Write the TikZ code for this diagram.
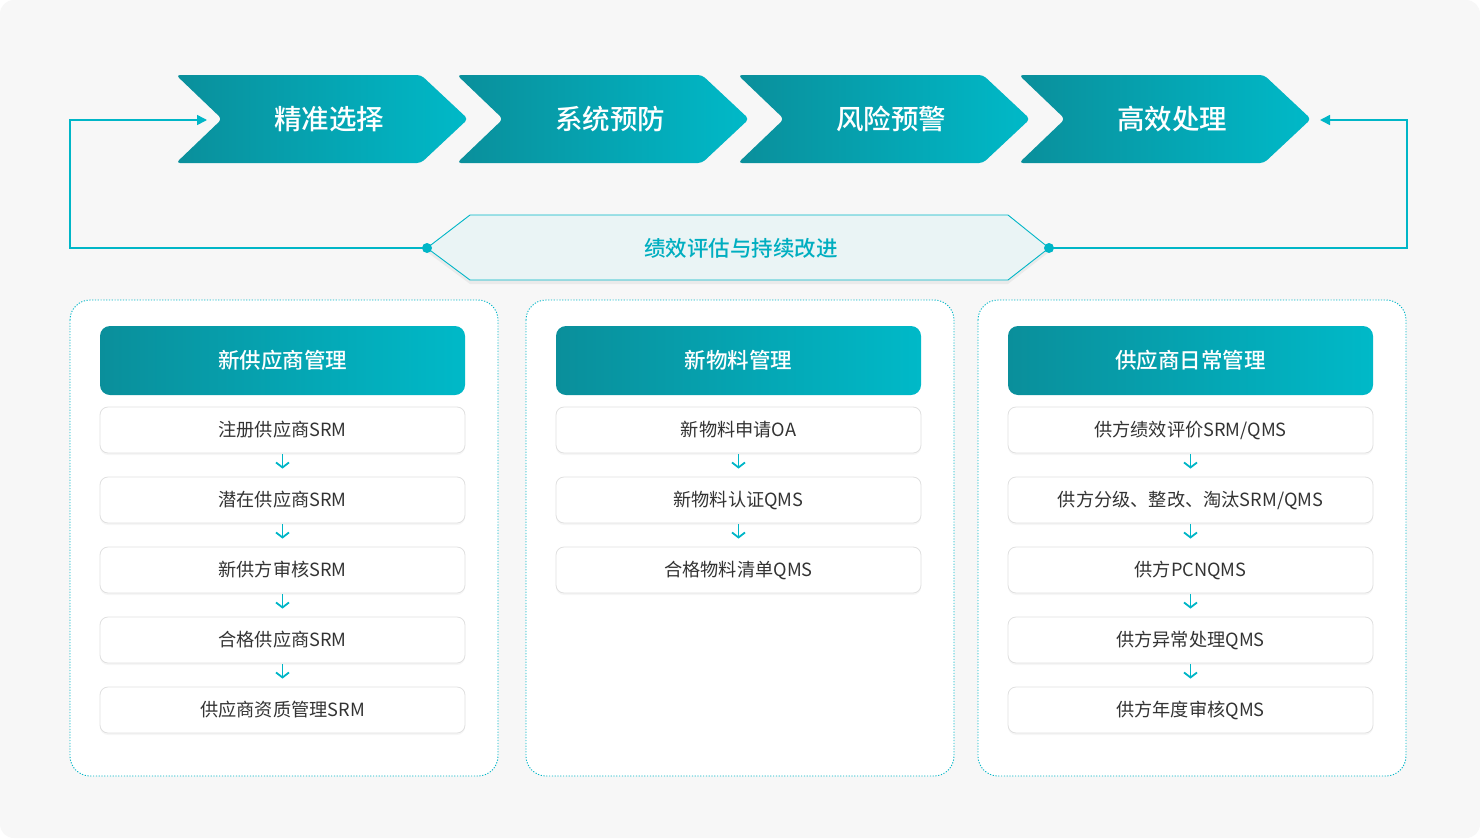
\documentclass[tikz,border=0pt]{standalone}
\usepackage{fontspec}
\IfFontExistsTF{Noto Sans CJK SC Medium}
  {\setmainfont{Noto Sans CJK SC}[BoldFont={Noto Sans CJK SC Medium}]}
  {\setmainfont{Noto Sans CJK SC}}
\usetikzlibrary{arrows.meta,shadows,calc}
\definecolor{bg}{HTML}{F7F7F7}
\definecolor{tealA}{HTML}{0A8F9B}
\definecolor{tealB}{HTML}{00B9C8}
\definecolor{cyanL}{HTML}{00B6C7}
\definecolor{hexfill}{HTML}{EAF4F5}
\definecolor{hextxt}{HTML}{00AEC0}
\definecolor{txt}{HTML}{333333}
\definecolor{itemb}{HTML}{E0E0E0}
\newcommand\chevshape[1]{%
  \path[rounded corners=4pt, left color=tealA, right color=tealB]
    (#1,75) -- (#1+245,75) -- (#1+292,119) -- (#1+245,163) -- (#1,163) -- (#1+46,119) -- cycle;}
\begin{document}
\begin{tikzpicture}[x=1pt,y=-1pt,
  chevtext/.style={text=white, font=\fontsize{27.5}{32}\selectfont\bfseries, inner sep=0pt},
  panel/.style={draw=cyanL, fill=white, line width=0.9pt, rounded corners=20pt, dash pattern=on 1.2pt off 1.6pt},
  header/.style={minimum width=365pt, minimum height=69pt, rounded corners=10pt, left color=tealA, right color=tealB, text=white, font=\fontsize{21.5}{26}\selectfont\bfseries, inner sep=0pt},
  item/.style={minimum width=365pt, minimum height=46pt, rounded corners=8pt, draw=itemb, line width=0.8pt, fill=white, text=txt, font=\fontsize{18.2}{22}\selectfont, inner sep=0pt,
    drop shadow={shadow xshift=0pt, shadow yshift=-2pt, opacity=0.035, fill=black}},
  darr/.style={draw=cyanL, line width=1.8pt, -{Straight Barb[length=5pt,width=13pt]}, shorten >=8pt, shorten <=1pt},
  fb/.style={draw=cyanL, line width=1.6pt},
  dot/.style={circle, fill=cyanL, minimum size=10pt, inner sep=0pt}
]
\useasboundingbox (0,0) rectangle (1480,838);
\fill[white] (0,0) rectangle (1480,838);
\fill[bg, rounded corners=14pt] (0,0) rectangle (1480,838);

% chevrons
\chevshape{176}\chevshape{457}\chevshape{738}\chevshape{1019}
\node[chevtext] (c1) at (329,119) {精准选择};
\node[chevtext] (c2) at (610,119) {系统预防};
\node[chevtext] (c3) at (891,119) {风险预警};
\node[chevtext] (c4) at (1172,119) {高效处理};

% hexagon
\path[fill=hexfill, draw=cyanL, line width=0.9pt,
  drop shadow={shadow xshift=0pt, shadow yshift=-4pt, opacity=0.05, fill=black}]
  (427,248) -- (470,215) -- (1008,215) -- (1049,248) -- (1008,280) -- (470,280) -- cycle;
\node[text=hextxt, font=\fontsize{21.5}{26}\selectfont\bfseries, inner sep=0pt] (hex) at (741,248) {绩效评估与持续改进};
\coordinate (hl) at (427,248);
\coordinate (hr) at (1049,248);
\coordinate (lc) at (70,120);
\coordinate (rc) at (1407,120);
\coordinate (a1) at (207,120);
\coordinate (a4) at (1320,120);
\draw[fb, -{Triangle[length=10pt,width=10pt]}] (hl) -| (lc) -- (a1);
\draw[fb, -{Triangle[length=10pt,width=10pt]}] (hr) -| (rc) -- (a4);
\node[dot] at (hl) {};
\node[dot] at (hr) {};

% panels
\draw[panel] (70,300) rectangle (498,776);
\draw[panel] (526,300) rectangle (954,776);
\draw[panel] (978,300) rectangle (1406,776);

% panel 1
\node[header] (h1) at (282.5,360.5) {新供应商管理};
\node[item] (p11) at (282.5,430) {注册供应商SRM};
\node[item] (p12) at (282.5,500) {潜在供应商SRM};
\node[item] (p13) at (282.5,570) {新供方审核SRM};
\node[item] (p14) at (282.5,640) {合格供应商SRM};
\node[item] (p15) at (282.5,710) {供应商资质管理SRM};
\draw[darr] (p11.south) -- (p12.north);
\draw[darr] (p12.south) -- (p13.north);
\draw[darr] (p13.south) -- (p14.north);
\draw[darr] (p14.south) -- (p15.north);

% panel 2
\node[header] (h2) at (738.5,360.5) {新物料管理};
\node[item] (p21) at (738.5,430) {新物料申请OA};
\node[item] (p22) at (738.5,500) {新物料认证QMS};
\node[item] (p23) at (738.5,570) {合格物料清单QMS};
\draw[darr] (p21.south) -- (p22.north);
\draw[darr] (p22.south) -- (p23.north);

% panel 3
\node[header] (h3) at (1190.5,360.5) {供应商日常管理};
\node[item] (p31) at (1190.5,430) {供方绩效评价SRM/QMS};
\node[item] (p32) at (1190.5,500) {供方分级、整改、淘汰SRM/QMS};
\node[item] (p33) at (1190.5,570) {供方PCNQMS};
\node[item] (p34) at (1190.5,640) {供方异常处理QMS};
\node[item] (p35) at (1190.5,710) {供方年度审核QMS};
\draw[darr] (p31.south) -- (p32.north);
\draw[darr] (p32.south) -- (p33.north);
\draw[darr] (p33.south) -- (p34.north);
\draw[darr] (p34.south) -- (p35.north);
\end{tikzpicture}
\end{document}
